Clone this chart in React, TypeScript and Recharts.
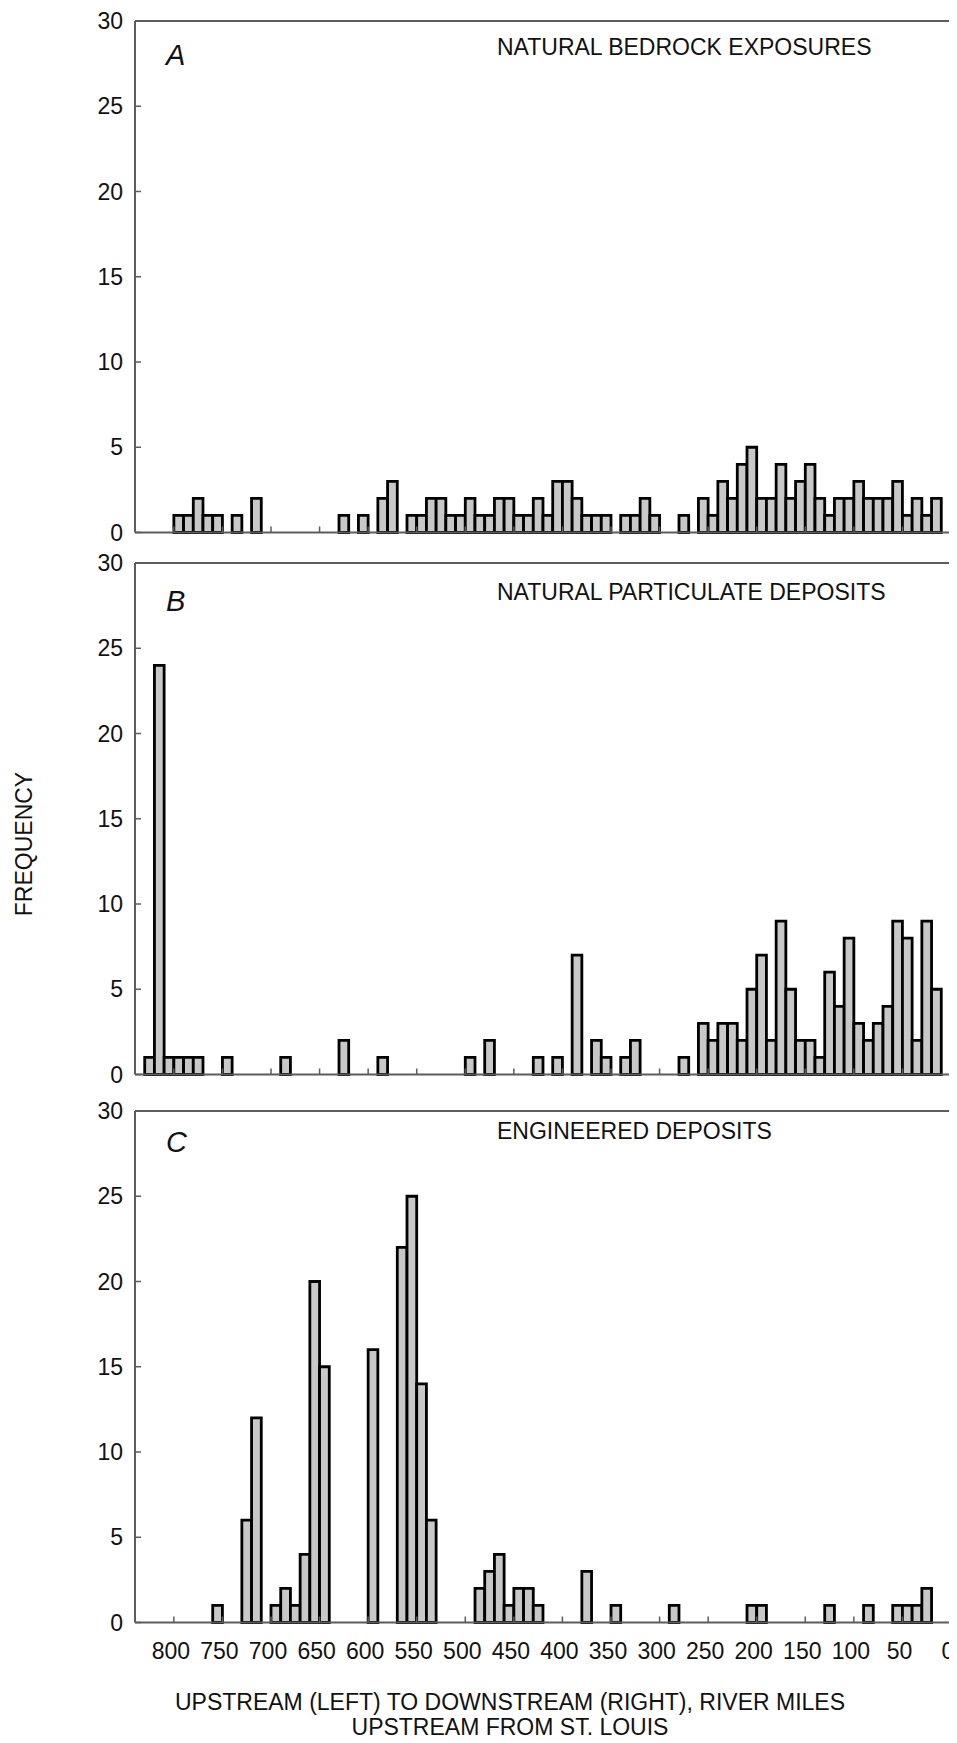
import React from "react";
import { BarChart, Bar, XAxis, YAxis, ReferenceLine } from "recharts";

// 10-mile bins, upstream (left) to downstream (right); value = lower bound of bin
const binStarts = [
  830, 820, 810, 800, 790, 780, 770, 760, 750, 740, 730, 720, 710, 700, 690, 680, 670, 660, 650, 640, 630,
  620, 610, 600, 590, 580, 570, 560, 550, 540, 530, 520, 510, 500, 490, 480, 470, 460, 450, 440, 430, 420,
  410, 400, 390, 380, 370, 360, 350, 340, 330, 320, 310, 300, 290, 280, 270, 260, 250, 240, 230, 220, 210,
  200, 190, 180, 170, 160, 150, 140, 130, 120, 110, 100, 90, 80, 70, 60, 50, 40, 30, 20, 10, 0,
];

// A - natural bedrock exposures
const bedrockBins = [
  790, 780, 770, 760, 750, 730, 710, 620, 600, 580, 570, 550, 540, 530, 520, 510, 500, 490, 480, 470, 460,
  450, 440, 430, 420, 410, 400, 390, 380, 370, 360, 350, 330, 320, 310, 300, 270, 250, 240, 230, 220, 210,
  200, 190, 180, 170, 160, 150, 140, 130, 120, 110, 100, 90, 80, 70, 60, 50, 40, 30, 20, 10,
];
const bedrockCounts = [
  1, 1, 2, 1, 1, 1, 2, 1, 1, 2, 3, 1, 1, 2, 2, 1, 1, 2, 1, 1, 2,
  2, 1, 1, 2, 1, 3, 3, 2, 1, 1, 1, 1, 1, 2, 1, 1, 2, 1, 3, 2, 4,
  5, 2, 2, 4, 2, 3, 4, 2, 1, 2, 2, 3, 2, 2, 2, 3, 1, 2, 1, 2,
];

// B - natural particulate deposits
const particulateBins = [
  820, 810, 800, 790, 780, 770, 740, 680, 620, 580, 490, 470, 420, 400, 380, 360, 350, 330, 320, 270, 250,
  240, 230, 220, 210, 200, 190, 180, 170, 160, 150, 140, 130, 120, 110, 100, 90, 80, 70, 60, 50, 40, 30, 20, 10,
];
const particulateCounts = [
  1, 24, 1, 1, 1, 1, 1, 1, 2, 1, 1, 2, 1, 1, 7, 2, 1, 1, 2, 1, 3,
  2, 3, 3, 2, 5, 7, 2, 9, 5, 2, 2, 1, 6, 4, 8, 3, 2, 3, 4, 9, 8, 2, 9, 5,
];

// C - engineered deposits
const engineeredBins = [
  750, 720, 710, 690, 680, 670, 660, 650, 640, 590, 560, 550, 540, 530, 480, 470, 460, 450, 440, 430, 420,
  370, 340, 280, 200, 190, 120, 80, 50, 40, 30, 20,
];
const engineeredCounts = [
  1, 6, 12, 1, 2, 1, 4, 20, 15, 16, 22, 25, 14, 6, 2, 3, 4, 1, 2, 2, 1,
  3, 1, 1, 1, 1, 1, 1, 1, 1, 1, 2,
];

const xTicks = [800, 750, 700, 650, 600, 550, 500, 450, 400, 350, 300, 250, 200, 150, 100, 50, 0];
const yTicks = [0, 5, 10, 15, 20, 25, 30];

const BIN = 10;
const axisColor = "#5c5c5c";
const textColor = "#111";
const font = "'Liberation Sans', Arial, sans-serif";

function buildRows(bins: number[], counts: number[]) {
  return binStarts.map((b) => {
    const i = bins.indexOf(b);
    return { mid: b + BIN / 2, count: i >= 0 ? counts[i] : 0 };
  });
}

const makeXTick = (showLabel: boolean) => (props: any) => {
  const { x, y, payload } = props;
  return (
    <g>
      <line x1={x} y1={y} x2={x} y2={y - 6} stroke={axisColor} strokeWidth={1.5} />
      {showLabel && (
        <text x={x - 3} y={y + 36} textAnchor="middle" fontSize={23} fill={textColor} fontFamily={font}>
          {payload.value}
        </text>
      )}
    </g>
  );
};

const LeftTick = (props: any) => {
  const { x, y, payload } = props;
  return (
    <g>
      <line x1={x} y1={y} x2={x + 6} y2={y} stroke={axisColor} strokeWidth={1.5} />
      <text x={x - 12} y={y + 8} textAnchor="end" fontSize={23} fill={textColor} fontFamily={font}>
        {payload.value}
      </text>
    </g>
  );
};

const RightTick = (props: any) => {
  const { x, y } = props;
  return <line x1={x} y1={y} x2={x - 6} y2={y} stroke={axisColor} strokeWidth={1.5} />;
};

const PLOT_W = 816;
const PLOT_H = 511.5;
const barW = (PLOT_W / 840) * BIN - 0.01;

function Panel({ top, rows, showLabels }: { top: number; rows: { mid: number; count: number }[]; showLabels: boolean }) {
  return (
    <div style={{ position: "absolute", left: 0, top: top - 20 }}>
      <BarChart
        width={957}
        height={20 + PLOT_H + 60}
        data={rows}
        margin={{ top: 20, right: 6, bottom: 0, left: 0 }}
        barCategoryGap={0}
        barGap={0}
      >
        <XAxis
          dataKey="mid"
          type="number"
          domain={[0, 840]}
          allowDataOverflow
          reversed
          ticks={xTicks}
          interval={0}
          height={60}
          tickSize={0}
          tickMargin={0}
          tickLine={false}
          axisLine={{ stroke: axisColor, strokeWidth: 2 }}
          tick={makeXTick(showLabels)}
        />
        <YAxis
          yAxisId="left"
          domain={[0, 30]}
          ticks={yTicks}
          interval={0}
          width={135}
          tickSize={0}
          tickMargin={0}
          tickLine={false}
          axisLine={{ stroke: axisColor, strokeWidth: 2 }}
          tick={LeftTick}
        />
        <YAxis
          yAxisId="right"
          orientation="right"
          domain={[0, 30]}
          ticks={yTicks}
          interval={0}
          width={0}
          tickSize={0}
          tickMargin={0}
          tickLine={false}
          axisLine={{ stroke: axisColor, strokeWidth: 2 }}
          tick={RightTick}
        />
        <ReferenceLine yAxisId="left" y={30} stroke={axisColor} strokeWidth={2} />
        <Bar
          yAxisId="left"
          dataKey="count"
          barSize={barW}
          fill="#c8c8c8"
          stroke="#000"
          strokeWidth={2.8}
          isAnimationActive={false}
        />
      </BarChart>
    </div>
  );
}

const panels = [
  { top: 21, rows: buildRows(bedrockBins, bedrockCounts), letter: "A", title: "NATURAL BEDROCK EXPOSURES", titleY: 55, letterY: 65 },
  { top: 562.5, rows: buildRows(particulateBins, particulateCounts), letter: "B", title: "NATURAL PARTICULATE DEPOSITS", titleY: 600, letterY: 611 },
  { top: 1110.5, rows: buildRows(engineeredBins, engineeredCounts), letter: "C", title: "ENGINEERED DEPOSITS", titleY: 1139, letterY: 1152 },
];

export default function App() {
  return (
    <div style={{ position: "relative", width: 957, height: 1743, margin: -8, background: "#fff", fontFamily: font }}>
      {panels.map((p, i) => (
        <Panel key={p.letter} top={p.top} rows={p.rows} showLabels={i === panels.length - 1} />
      ))}
      <svg width={957} height={1743} style={{ position: "absolute", left: 0, top: 0, pointerEvents: "none" }}>
        {panels.map((p) => (
          <g key={p.letter}>
            <text x={166} y={p.letterY} fontSize={29} fontStyle="italic" fill={textColor} fontFamily={font}>
              {p.letter}
            </text>
            <text x={497} y={p.titleY} fontSize={23} fill={textColor} fontFamily={font}>
              {p.title}
            </text>
          </g>
        ))}
        <text
          x={24}
          y={844}
          transform="rotate(-90, 24, 844)"
          textAnchor="middle"
          dominantBaseline="central"
          fontSize={23}
          fill={textColor}
          fontFamily={font}
        >
          FREQUENCY
        </text>
        <text x={510} y={1710} textAnchor="middle" fontSize={23} fill={textColor} fontFamily={font}>
          UPSTREAM (LEFT) TO DOWNSTREAM (RIGHT), RIVER MILES
        </text>
        <text x={510} y={1735} textAnchor="middle" fontSize={23} fill={textColor} fontFamily={font}>
          UPSTREAM FROM ST. LOUIS
        </text>
      </svg>
    </div>
  );
}
